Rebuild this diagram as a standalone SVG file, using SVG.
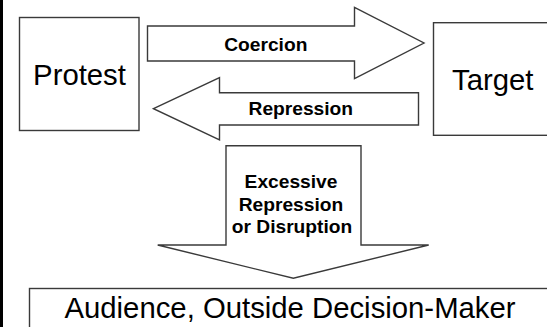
<svg xmlns="http://www.w3.org/2000/svg" width="547" height="327" viewBox="0 0 547 327">
<style>
.box{fill:#fff;stroke:#3a3a3a;stroke-width:1.4}
.big{font-family:"Liberation Sans",Arial,sans-serif;font-size:29.3px;fill:#000;text-anchor:middle}
.lbl{font-family:"Liberation Sans",Arial,sans-serif;font-size:19.2px;font-weight:bold;fill:#000;text-anchor:middle}
</style>
<rect x="0" y="0" width="547" height="327" fill="#fff"/>
<rect x="0" y="0" width="3" height="327" fill="#000"/>
<g id="protest">
<rect class="box" x="19.5" y="17.5" width="119.5" height="113"/>
<text class="big" x="79.5" y="85">Protest</text>
</g>
<g id="target">
<rect class="box" x="433.5" y="22.7" width="120" height="112.6"/>
<text class="big" x="492.8" y="90">Target</text>
</g>
<g id="audience">
<rect class="box" x="29.5" y="288.5" width="530" height="50"/>
<text class="big" x="290" y="318.3">Audience, Outside Decision-Maker</text>
</g>
<g id="connectors">
<g id="coercion">
<polygon class="box" points="147.5,26 354.5,26 354.5,7.5 424,43 354.5,78.5 354.5,61 147.5,61"/>
<text class="lbl" x="265.8" y="51.3">Coercion</text>
</g>
<g id="repression">
<polygon class="box" points="153.5,108.7 219.5,77.5 219.5,92.7 418.5,92.7 418.5,125 219.5,125 219.5,140"/>
<text class="lbl" x="300.8" y="115">Repression</text>
</g>
<g id="excessive">
<polygon class="box" points="226,145.7 361,145.7 361,245 428.7,245 293.3,278.3 157.7,245 226,245"/>
<text class="lbl" x="291" y="188">Excessive</text>
<text class="lbl" x="291" y="210.5">Repression</text>
<text class="lbl" x="292" y="233">or Disruption</text>
</g>
</g>
</svg>
